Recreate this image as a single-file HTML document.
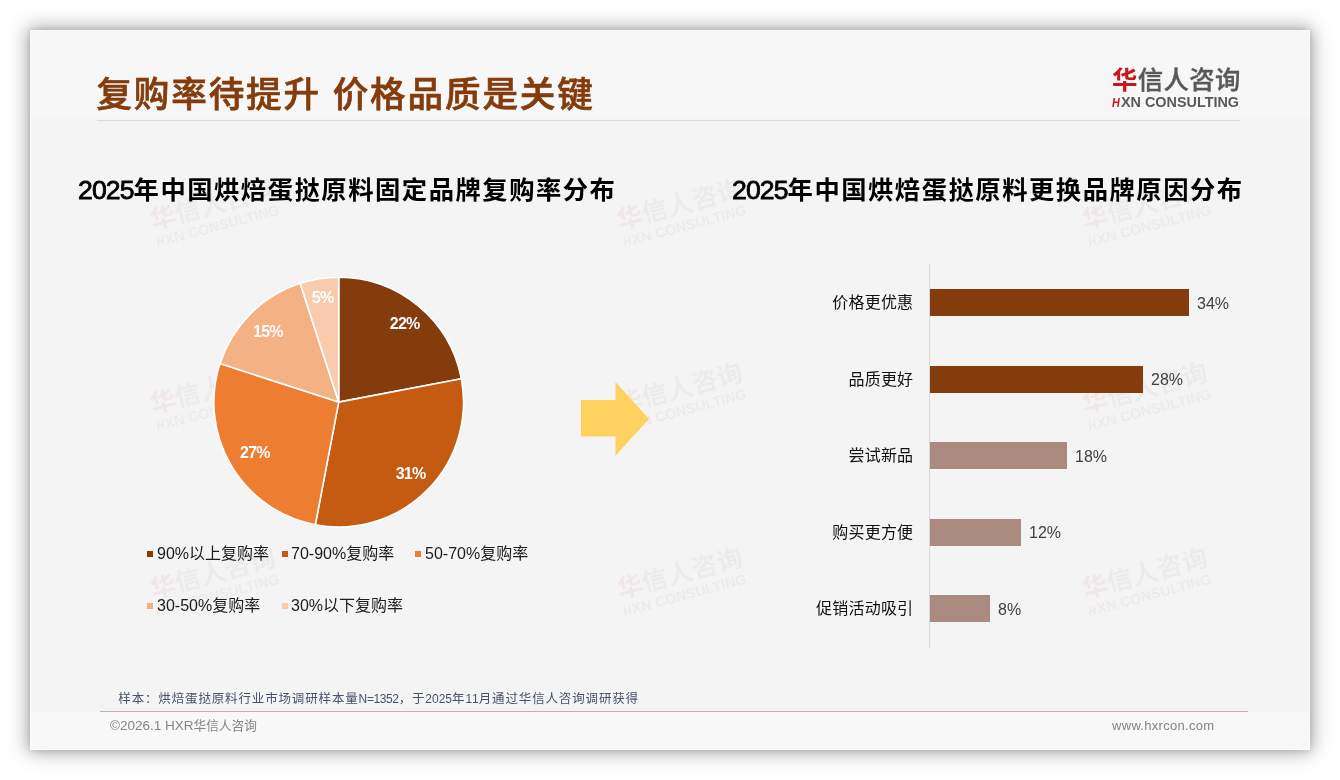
<!DOCTYPE html>
<html lang="zh-CN">
<head>
<meta charset="utf-8">
<title>复购率待提升 价格品质是关键</title>
<style>
html,body{margin:0;padding:0;background:#fff;}
body{width:1340px;height:780px;overflow:hidden;position:relative;font-family:"Liberation Sans","Noto Sans CJK SC",sans-serif;}
#slide{position:absolute;left:30px;top:30px;width:1280px;height:720px;background:#f4f4f4;box-shadow:0 0 18px 2px rgba(0,0,0,.36),0 0 6px rgba(0,0,0,.14);overflow:hidden;}
.abs{position:absolute;white-space:nowrap;}
#hdrband{left:0;top:0;width:1280px;height:87px;background:#f7f7f7;}
#ftrband{left:0;top:682px;width:1280px;height:38px;background:#f8f8f8;}
#edge{left:0;top:0;width:1278px;height:718px;border:1px solid rgba(255,255,255,.55);}
#hdrline{left:67px;top:90px;width:1143px;height:1px;background:#dcdcdc;}
#ftrline{left:69.5px;top:681px;width:1148px;height:1px;background:#c8b0a2;}
#title{left:66.4px;top:39.7px;font-size:35.6px;line-height:50px;font-weight:500;-webkit-text-stroke:.7px #843c0c;color:#843c0c;letter-spacing:1.85px;}
.ctitle{font-size:25.3px;line-height:36px;font-weight:700;color:#000;letter-spacing:1.53px;}
.ctitle i{font-weight:400;-webkit-text-stroke:.8px #000;font-style:normal;font-size:26.6px;letter-spacing:-.9px;}
#ct1{left:48px;top:142.3px;}
#ct2{left:702px;top:142.3px;}
.lg{font-size:16px;line-height:22px;color:#1c1c1c;}
.sq{position:absolute;width:6.4px;height:6.4px;}
.cat{font-size:16px;line-height:22px;color:#111;letter-spacing:.2px;margin-left:.3px;text-align:right;width:200px;}
.val{font-size:16px;line-height:22px;color:#404040;}
.pl{font-size:16px;line-height:20px;font-weight:700;color:#fff;width:60px;text-align:center;letter-spacing:-.75px;text-indent:.75px;}
#note{left:88.3px;top:660.2px;font-size:12.5px;line-height:18px;color:#455267;letter-spacing:.85px;}
#note i{font-style:normal;font-size:12px;letter-spacing:0;font-kerning:none;}
#note i.n{letter-spacing:-.39px;}
#copy{left:80px;top:687.2px;font-size:13.5px;line-height:18px;color:#858585;}
#copy i{font-style:normal;font-size:12.7px;}
#url{left:1082px;top:686.8px;font-size:13px;line-height:18px;color:#828282;letter-spacing:.3px;}
.logo{position:absolute;width:130px;height:44px;}
.logo .cn{position:absolute;left:0;top:1px;font-size:25.4px;line-height:30px;font-weight:500;color:#595959;-webkit-text-stroke:.4px #595959;white-space:nowrap;letter-spacing:.35px;}
.logo .cn b{color:#c8161d;font-weight:700;-webkit-text-stroke:0;}
.logo .en{position:absolute;left:0;top:30.2px;font-size:14.4px;line-height:16px;font-weight:700;color:#595959;white-space:nowrap;}
.logo .en b{color:#c8161d;font-style:italic;display:inline-block;transform:scaleX(.8);transform-origin:0 50%;margin-right:-.8px;font-size:13.5px;}
.wm{opacity:.052;transform:rotate(-15deg);transform-origin:50% 50%;}
</style>
</head>
<body>
<div id="slide">
  <div class="abs" id="hdrband"></div>
  <div class="abs" id="ftrband"></div>

  <!-- watermarks -->
  <div class="logo wm" style="left:120.2px;top:158px"><div class="cn"><b>华</b>信人咨询</div><div class="en"><b>H</b>XN CONSULTING</div></div>
  <div class="logo wm" style="left:586.7px;top:158px"><div class="cn"><b>华</b>信人咨询</div><div class="en"><b>H</b>XN CONSULTING</div></div>
  <div class="logo wm" style="left:1051.8px;top:158px"><div class="cn"><b>华</b>信人咨询</div><div class="en"><b>H</b>XN CONSULTING</div></div>
  <div class="logo wm" style="left:120.2px;top:342.2px"><div class="cn"><b>华</b>信人咨询</div><div class="en"><b>H</b>XN CONSULTING</div></div>
  <div class="logo wm" style="left:586.7px;top:342.2px"><div class="cn"><b>华</b>信人咨询</div><div class="en"><b>H</b>XN CONSULTING</div></div>
  <div class="logo wm" style="left:1051.8px;top:342.2px"><div class="cn"><b>华</b>信人咨询</div><div class="en"><b>H</b>XN CONSULTING</div></div>
  <div class="logo wm" style="left:120.2px;top:526.5px"><div class="cn"><b>华</b>信人咨询</div><div class="en"><b>H</b>XN CONSULTING</div></div>
  <div class="logo wm" style="left:586.7px;top:526.5px"><div class="cn"><b>华</b>信人咨询</div><div class="en"><b>H</b>XN CONSULTING</div></div>
  <div class="logo wm" style="left:1051.8px;top:526.5px"><div class="cn"><b>华</b>信人咨询</div><div class="en"><b>H</b>XN CONSULTING</div></div>

  <div class="abs" id="edge"></div>
  <div class="abs" id="hdrline"></div>
  <div class="abs" id="ftrline"></div>
  <div class="abs" id="title">复购率待提升 价格品质是关键</div>
  <div class="logo" style="left:1082px;top:34px"><div class="cn"><b>华</b>信人咨询</div><div class="en"><b>H</b>XN CONSULTING</div></div>

  <div class="abs ctitle" id="ct1"><i>2025</i>年中国烘焙蛋挞原料固定品牌复购率分布</div>
  <div class="abs ctitle" id="ct2"><i>2025</i>年中国烘焙蛋挞原料更换品牌原因分布</div>

  <!-- charts -->
  <svg class="abs" style="left:0;top:0" width="1280" height="720" viewBox="30 30 1280 720">
    <!-- pie -->
    <g stroke="#fff" stroke-width="1.6" stroke-linejoin="round">
      <path id="p1" fill="#843c0c" d="M338.7 402.1L338.70 277.25A124.85 124.85 0 0 1 461.34 378.71Z"/>
      <path id="p2" fill="#c55a11" d="M338.7 402.1L461.34 378.71A124.85 124.85 0 0 1 315.31 524.74Z"/>
      <path id="p3" fill="#ed7d31" d="M338.7 402.1L315.31 524.74A124.85 124.85 0 0 1 219.96 363.52Z"/>
      <path id="p4" fill="#f4b183" d="M338.7 402.1L219.96 363.52A124.85 124.85 0 0 1 300.12 283.36Z"/>
      <path id="p5" fill="#f8cbad" d="M338.7 402.1L300.12 283.36A124.85 124.85 0 0 1 338.70 277.25Z"/>
    </g>
    <!-- arrow -->
    <path fill="#ffd15e" d="M581 400H615.5V382L649 419L615.5 455.5V436.5H581Z"/>
    <!-- bars -->
    <rect x="929" y="264" width="1" height="384" fill="#d9d9d9"/>
    <rect x="930" y="289" width="259" height="27" fill="#843c0c"/>
    <rect x="930" y="366" width="213" height="27" fill="#843c0c"/>
    <rect x="930" y="442" width="137" height="27" fill="#ab8b80"/>
    <rect x="930" y="519" width="91" height="27" fill="#ab8b80"/>
    <rect x="930" y="595" width="60" height="27" fill="#ab8b80"/>
  </svg>

  <!-- pie labels -->
  <div class="abs pl" style="left:344.3px;top:283.7px">22%</div>
  <div class="abs pl" style="left:350.2px;top:433.7px">31%</div>
  <div class="abs pl" style="left:194.5px;top:412.7px">27%</div>
  <div class="abs pl" style="left:207.5px;top:291.8px">15%</div>
  <div class="abs pl" style="left:262.3px;top:257.6px">5%</div>

  <!-- legend -->
  <div class="sq" style="left:117px;top:520.8px;background:#843c0c"></div>
  <div class="abs lg" style="left:127px;top:512.9px">90%以上复购率</div>
  <div class="sq" style="left:252px;top:520.8px;background:#c55a11"></div>
  <div class="abs lg" style="left:261px;top:512.9px">70-90%复购率</div>
  <div class="sq" style="left:385px;top:520.8px;background:#ed7d31"></div>
  <div class="abs lg" style="left:395px;top:512.9px">50-70%复购率</div>
  <div class="sq" style="left:117px;top:572.8px;background:#f4b183"></div>
  <div class="abs lg" style="left:127px;top:564.9px">30-50%复购率</div>
  <div class="sq" style="left:252px;top:572.8px;background:#f8cbad"></div>
  <div class="abs lg" style="left:261px;top:564.9px">30%以下复购率</div>

  <!-- bar categories -->
  <div class="abs cat" style="left:683px;top:262px">价格更优惠</div>
  <div class="abs cat" style="left:683px;top:338.8px">品质更好</div>
  <div class="abs cat" style="left:683px;top:415px">尝试新品</div>
  <div class="abs cat" style="left:683px;top:491.7px">购买更方便</div>
  <div class="abs cat" style="left:683px;top:568px">促销活动吸引</div>
  <!-- bar values -->
  <div class="abs val" style="left:1167px;top:262.9px">34%</div>
  <div class="abs val" style="left:1121px;top:339.4px">28%</div>
  <div class="abs val" style="left:1045px;top:416px">18%</div>
  <div class="abs val" style="left:999px;top:492px">12%</div>
  <div class="abs val" style="left:968px;top:569px">8%</div>

  <div class="abs" id="note">样本：烘焙蛋挞原料行业市场调研样本量<i class="n">N=1352</i>，于<i>2025</i>年<i>11</i>月通过华信人咨询调研获得</div>
  <div class="abs" id="copy">©2026.1 HXR<i>华信人咨询</i></div>
  <div class="abs" id="url">www.hxrcon.com</div>
</div>
</body>
</html>
